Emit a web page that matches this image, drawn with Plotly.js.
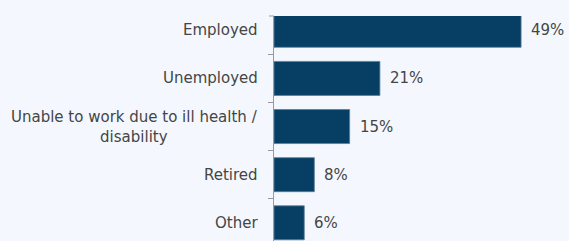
<!DOCTYPE html>
<html>
<head>
<meta charset="utf-8">
<script src="https://cdn.plot.ly/plotly-3.0.1.min.js"></script>
<style>html,body{margin:0;padding:0;background:#F4F8FE;}#chart{width:569px;height:241px;}</style>
</head>
<body>
<div id="chart"></div>
<script>
var categories = ["Employed", "Unemployed", "Unable to work due to ill health /<br>disability", "Retired", "Other"];
var values = [49, 21, 15, 8, 6];
var valueLabels = ["49%", "21%", "15%", "8%", "6%"];

var barColor = "#073E64";
var textColor = "#454545";
var font = {family: "DejaVu Sans, Verdana, sans-serif", size: 15, color: textColor};

var trace = {
  type: "bar",
  orientation: "h",
  x: values,
  y: categories,
  marker: {color: barColor, line: {color: "#5b7d99", width: 0.8}},
  hoverinfo: "none"
};

var annotations = [];
categories.forEach(function (c, i) {
  annotations.push({
    xref: "paper", yref: "y", x: 0, y: c,
    text: c, showarrow: false, xanchor: "right", yanchor: "middle",
    align: "center", xshift: -14, font: font
  });
  annotations.push({
    xref: "x", yref: "y", x: values[i], y: c,
    text: valueLabels[i], showarrow: false, xanchor: "left", yanchor: "middle",
    xshift: 8, font: font
  });
});

var layout = {
  width: 569, height: 241,
  margin: {l: 274, r: 0, t: 16, b: 0, pad: 0},
  paper_bgcolor: "#F4F8FE",
  plot_bgcolor: "#F4F8FE",
  bargap: 0.293,
  showlegend: false,
  font: font,
  xaxis: {visible: false, range: [0, 58.5], fixedrange: true},
  yaxis: {
    type: "category",
    categoryorder: "array",
    categoryarray: categories,
    range: [4.378, -0.297],
    showticklabels: false,
    ticks: "outside",
    tickson: "boundaries",
    ticklen: 5,
    tickcolor: "#9a9a9a",
    showline: true,
    linecolor: "#9a9a9a",
    linewidth: 1,
    showgrid: false,
    zeroline: false
  },
  annotations: annotations,
  shapes: [{
    type: "line", xref: "paper", yref: "paper",
    xsizemode: "pixel", xanchor: 0, x0: -5, x1: 0, y0: 1, y1: 1,
    line: {color: "#9a9a9a", width: 1}
  }]
};

Plotly.newPlot("chart", [trace], layout, {displayModeBar: false, staticPlot: true});
</script>
</body>
</html>
